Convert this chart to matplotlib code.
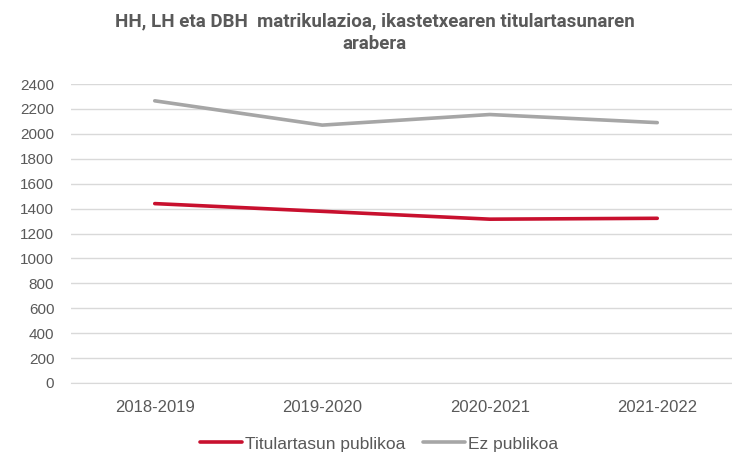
import matplotlib.pyplot as plt
from matplotlib import font_manager

# Data
seasons = ['2018-2019', '2019-2020', '2020-2021', '2021-2022']
publikoa = [1440, 1378, 1315, 1322]
ez_publikoa = [2265, 2070, 2155, 2090]

names = {f.name for f in font_manager.fontManager.ttflist}
title_font = 'Liberation Sans Narrow' if 'Liberation Sans Narrow' in names else 'Roboto'
plt.rcParams['font.family'] = ['Liberation Sans', 'DejaVu Sans']

text_color = '#595959'

fig = plt.figure(figsize=(7.32, 4.57), dpi=100)
ax = fig.add_axes([71 / 732, 1 - 383 / 457, 670 / 732, 299 / 457])

x = range(len(seasons))
ax.plot(x, publikoa, color='#C8102E', linewidth=2.6, label='Titulartasun publikoa',
        solid_capstyle='round')
ax.plot(x, ez_publikoa, color='#A6A6A6', linewidth=2.6, label='Ez publikoa',
        solid_capstyle='round')

ax.set_xlim(-0.5, len(seasons) - 0.5)
ax.set_ylim(0, 2400)
ax.set_yticks(range(0, 2401, 200))
ax.set_xticks(list(x))
ax.set_xticklabels(seasons)
ax.tick_params(length=0, colors=text_color)
ax.tick_params(axis='y', labelsize=11, pad=12)
ax.tick_params(axis='x', labelsize=12, pad=12)
ax.grid(axis='y', color='#D9D9D9', linewidth=1)
ax.set_axisbelow(True)
for side in ['top', 'right', 'left']:
    ax.spines[side].set_visible(False)
ax.spines['bottom'].set_color('#D9D9D9')

fig.text(0.512, 1 - 33 / 457, 'HH, LH eta DBH  matrikulazioa, ikastetxearen titulartasunaren\narabera',
         ha='center', va='center', fontsize=13.5, fontweight='bold', color=text_color,
         family=title_font, linespacing=1.3)

fig.legend(loc='center', bbox_to_anchor=(0.518, 1 - 444 / 457), ncol=2, frameon=False,
           fontsize=12.5, labelcolor=text_color, handlelength=2.4, columnspacing=1.0,
           handletextpad=0.2)

fig.savefig('out.png', dpi=100)
